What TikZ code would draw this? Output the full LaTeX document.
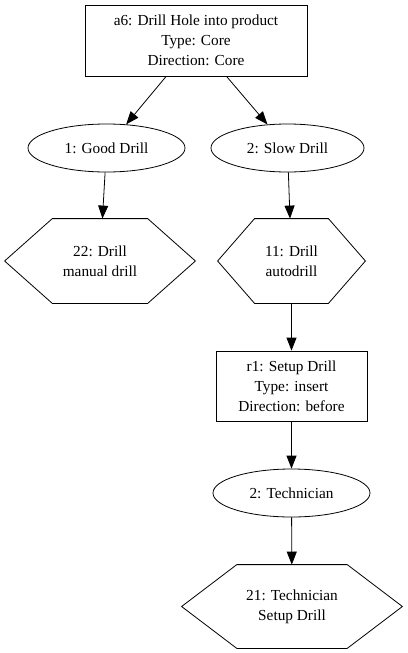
\documentclass[tikz,border=0pt]{standalone}
\usepackage{fontspec}
\setmainfont{Liberation Serif}
\usetikzlibrary{arrows.meta,shapes.geometric,calc}
\newcommand\hexoutline[1]{\draw (#1.west) -- ($(#1.north west)!.25!(#1.north east)$) -- ($(#1.north west)!.75!(#1.north east)$) -- (#1.east) -- ($(#1.south west)!.75!(#1.south east)$) -- ($(#1.south west)!.25!(#1.south east)$) -- cycle;}
\begin{document}
\begin{tikzpicture}[x=1pt,y=1pt,line width=0.8pt,
  txt/.style={align=center,inner sep=0pt,font=\fontsize{15.3}{20}\selectfont},
  actbox/.style={txt,rectangle,draw},
  oval/.style={txt,ellipse,draw,minimum height=48pt},
  hexa/.style={txt,rectangle,minimum height=84pt},
  flow/.style={-{Triangle[length=13pt,width=10pt]}}]
\useasboundingbox (0,0) rectangle (407,-653);

% Activity node
\node[actbox,minimum width=222pt,minimum height=71pt] (a6) at (196,-40.5) {a6: Drill Hole into product\\Type: Core\\Direction: Core};

% Drill options
\node[oval,minimum width=157pt] (good) at (106.5,-148) {1: Good Drill};
\node[oval,minimum width=153pt] (slow) at (287.5,-148) {2: Slow Drill};

% Resources
\node[hexa,minimum width=190pt] (manual) at (100,-261) {22: Drill\\manual drill};
\node[hexa,minimum width=147pt] (auto) at (291.5,-261) {11: Drill\\autodrill};
\hexoutline{manual}
\hexoutline{auto}

% Setup rule
\node[actbox,minimum width=151pt,minimum height=70pt] (r1) at (291.5,-386) {r1: Setup Drill\\Type: insert\\Direction: before};

% Technician
\node[oval,minimum width=157pt] (tech) at (291.5,-493) {2: Technician};
\node[hexa,minimum width=220pt,minimum height=83pt] (setup) at (292,-606.5) {21: Technician\\Setup Drill};
\hexoutline{setup}

% Connections
\draw[flow] (a6) -- (good);
\draw[flow] (a6) -- (slow);
\draw[flow] (good) -- (manual);
\draw[flow] (slow) -- (auto);
\draw[flow] (auto) -- (r1);
\draw[flow] (r1) -- (tech);
\draw[flow] (tech) -- (setup);

\end{tikzpicture}
\end{document}
